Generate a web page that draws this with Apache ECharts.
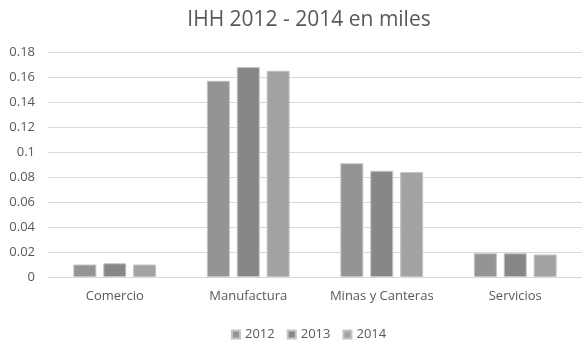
<!DOCTYPE html>
<html>
<head>
<meta charset="utf-8">
<script src="https://cdn.jsdelivr.net/npm/echarts@6/dist/echarts.min.js"></script>
<style>
html,body{margin:0;padding:0;background:#fff;}
#chart{width:582px;height:340px;}
</style>
</head>
<body>
<div id="chart"></div>
<script>
const categories = ['Comercio', 'Manufactura', 'Minas y Canteras', 'Servicios'];
const seriesNames = ['2012', '2013', '2014'];
const values2012 = [0.010, 0.157, 0.091, 0.019];
const values2013 = [0.011, 0.168, 0.085, 0.019];
const values2014 = [0.010, 0.165, 0.084, 0.018];
const colors = ['#949494', '#878787', '#a3a3a3'];
const font = '"Open Sans", "Liberation Sans", sans-serif';

const chart = echarts.init(document.getElementById('chart'));
const data = [values2012, values2013, values2014];
chart.setOption({
  animation: false,
  title: {
    text: 'IHH 2012 - 2014 en miles',
    left: 304, top: 5, textAlign: 'center',
    textStyle: { fontFamily: font, fontSize: 21, fontWeight: 'normal', color: '#595959' }
  },
  legend: {
    data: seriesNames,
    top: 323, left: 226,
    itemWidth: 8, itemHeight: 8, itemGap: 12,
    icon: 'rect',
    textStyle: { fontFamily: font, fontSize: 13, color: '#595959' }
  },
  grid: { left: 48, right: -6, top: 52, bottom: 63, containLabel: false },
  xAxis: {
    type: 'category', data: categories,
    axisLine: { lineStyle: { color: '#d9d9d9', width: 1 } },
    axisTick: { show: false },
    axisLabel: { interval: 0, fontFamily: font, fontSize: 13, color: '#595959', margin: 13 }
  },
  yAxis: {
    type: 'value', min: 0, max: 0.18, interval: 0.02,
    axisLine: { show: false }, axisTick: { show: false },
    splitLine: { lineStyle: { color: '#d9d9d9', width: 1 } },
    axisLabel: { fontFamily: font, fontSize: 13, color: '#595959', margin: 13,
      formatter: v => String(+v.toFixed(2)) }
  },
  series: seriesNames.map((n, i) => ({
    name: n, type: 'bar', data: data[i],
    barWidth: 23, barGap: '30%',
    itemStyle: { color: colors[i], borderColor: '#c4c4c4', borderWidth: 1 }
  }))
});
</script>
</body>
</html>
